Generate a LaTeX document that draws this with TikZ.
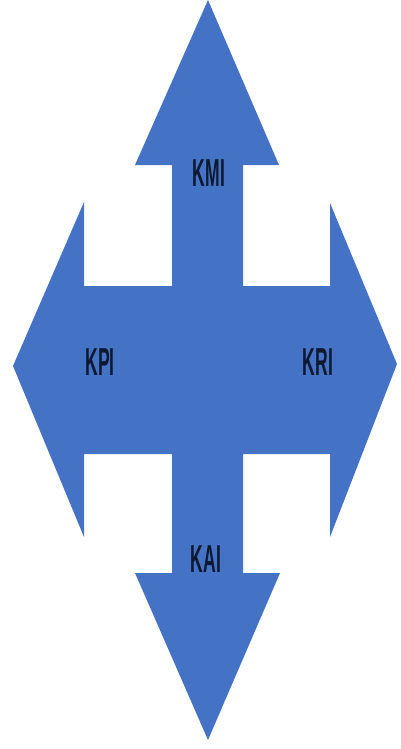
\documentclass[tikz,border=0pt]{standalone}
\usepackage{fontspec}
\newfontfamily\narrowfont[FakeStretch=0.45]{Liberation Sans}
\definecolor{arrowblue}{HTML}{4472C4}
\definecolor{labelink}{HTML}{0E1830}
\begin{document}
\begin{tikzpicture}[x=1pt,y=-1pt,
  lbl/.style={text=labelink,font=\narrowfont\bfseries\fontsize{39}{39}\selectfont,inner sep=0pt}]
\useasboundingbox (0,0) rectangle (400,749);
\fill[arrowblue] (208,0) -- (279,165) -- (243,165) -- (243,286) -- (330,286) -- (330,203)
  -- (397,364) -- (330,537) -- (330,454) -- (243,454) -- (243,573) -- (280,573)
  -- (208,740) -- (135,573) -- (172,573) -- (172,454) -- (84,454) -- (84,537)
  -- (13,366) -- (84,202) -- (84,286) -- (172,286) -- (172,165) -- (135,165) -- cycle;
\node[lbl] (kmi) at (209,173) {KMI};
\node[lbl] (kpi) at (100,362) {KPI};
\node[lbl] (kri) at (318,362) {KRI};
\node[lbl] (kai) at (206,559) {KAI};
\end{tikzpicture}
\end{document}
